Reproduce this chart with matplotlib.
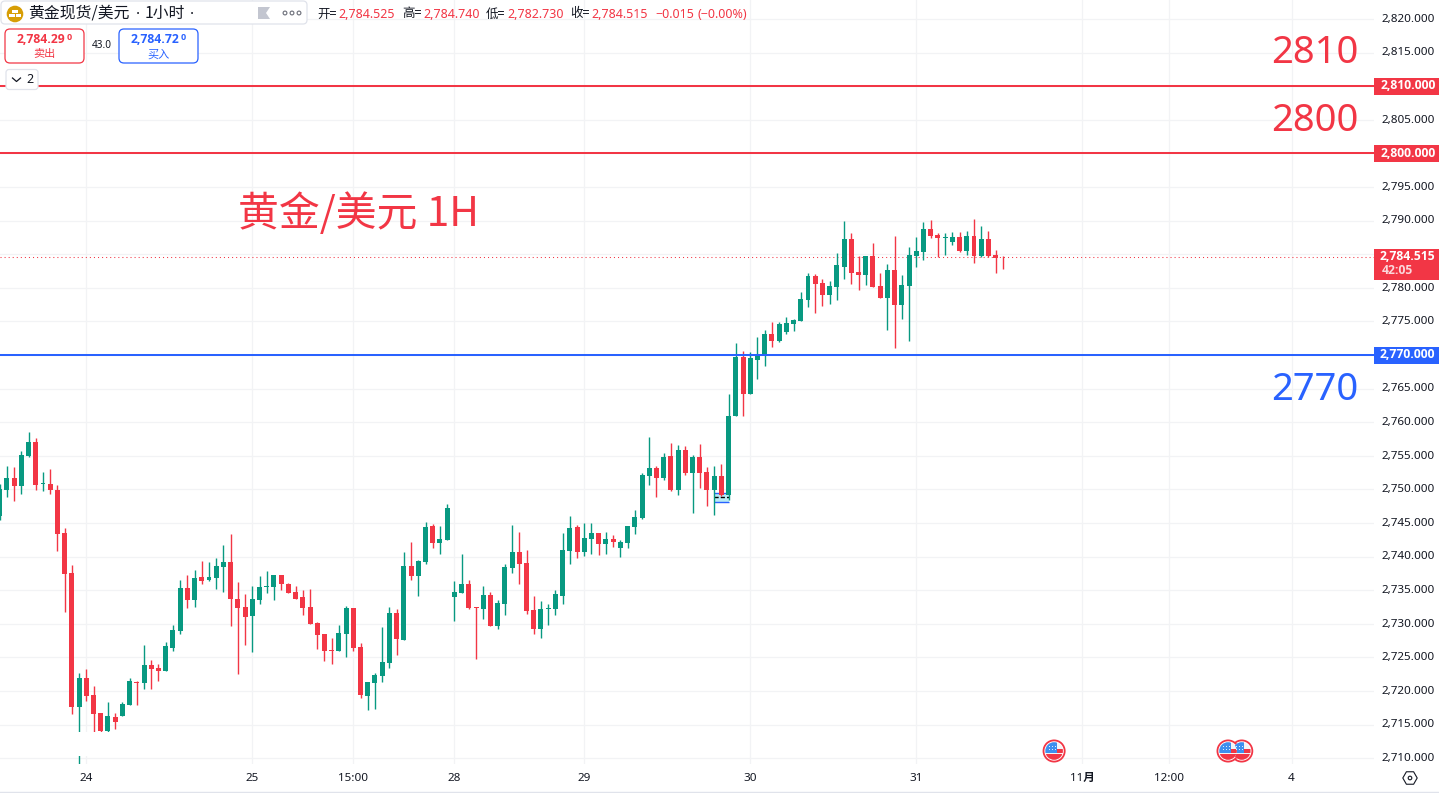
import matplotlib
matplotlib.use("Agg")
import math
import matplotlib.pyplot as plt
from matplotlib.patches import Circle, FancyBboxPatch, Polygon, Rectangle, RegularPolygon
from matplotlib.transforms import ScaledTranslation

# ---- data ----
opens = [2746.05,2749.91,2751.70,2750.51,2754.97,2757.06,2750.86,2750.81,2749.91,2743.52,
2737.56,2717.62,2721.94,2719.41,2716.73,2714.05,2716.14,2716.29,2717.92,2721.34,
2721.20,2723.87,2723.43,2722.98,2726.40,2728.93,2735.33,2733.55,2736.97,2736.52,
2736.82,2738.46,2739.20,2733.69,2732.50,2731.16,2733.54,2735.48,2735.48,2737.26,
2735.92,2734.73,2733.99,2732.50,2730.12,2728.48,2726.10,2725.95,2728.48,2732.35,
2726.55,2719.26,2721.19,2722.23,2724.17,2731.61,2727.59,2738.60,2737.11,2739.20,
2744.55,2742.02,2742.47,2733.99,2734.59,2735.93,2732.50,2732.21,2734.29,2729.68,
2732.95,2738.31,2740.69,2739.05,2732.06,2729.23,2732.21,2732.21,2734.14,2740.84,
2744.41,2740.69,2742.62,2743.52,2741.88,2742.62,2741.28,2742.03,2744.41,2745.75,
2752.00,2753.19,2751.70,2754.97,2749.91,2755.87,2752.44,2754.82,2752.59,2749.91,
2752.00,2749.17,2760.93,2769.71,2764.20,2769.26,2769.86,2773.13,2772.09,2773.43,
2774.62,2775.06,2778.19,2781.76,2780.72,2778.93,2780.12,2783.10,2787.26,2782.35,
2781.91,2784.74,2780.27,2778.49,2782.65,2777.44,2780.27,2784.74,2785.33,2788.75,
2787.86,2787.41,2786.82,2787.56,2785.48,2787.71,2784.74,2787.26,2784.88,2784.525]
highs = [2750.81,2753.49,2753.34,2755.72,2758.54,2757.65,2752.59,2753.04,2750.66,2744.26,
2738.75,2722.68,2723.28,2720.75,2716.73,2718.37,2716.73,2718.37,2721.94,2721.49,
2726.85,2724.62,2724.02,2727.30,2729.83,2736.52,2737.27,2738.01,2739.35,2739.20,
2739.80,2741.73,2743.37,2736.22,2734.43,2735.63,2737.11,2737.86,2737.26,2737.26,
2736.07,2735.63,2735.03,2735.18,2730.27,2728.48,2727.89,2729.82,2732.65,2732.35,
2727.14,2721.34,2722.68,2729.52,2732.50,2732.20,2740.68,2742.17,2739.49,2745.15,
2744.85,2744.55,2747.83,2736.37,2740.39,2736.52,2732.50,2735.63,2734.74,2733.55,
2738.90,2744.71,2743.66,2740.99,2734.14,2733.40,2732.95,2735.03,2743.52,2746.05,
2744.71,2745.00,2745.00,2743.52,2743.66,2743.22,2742.47,2744.56,2746.94,2752.44,
2757.80,2753.49,2755.42,2756.91,2756.61,2756.46,2755.12,2756.76,2753.34,2753.49,
2753.78,2764.20,2771.79,2770.60,2770.45,2772.68,2773.72,2774.91,2774.91,2775.66,
2775.36,2779.38,2782.21,2782.06,2781.31,2781.02,2785.18,2789.94,2788.16,2784.74,
2784.74,2786.67,2782.21,2783.54,2787.71,2781.91,2786.07,2787.56,2789.79,2790.09,
2788.16,2788.16,2788.31,2788.31,2788.46,2790.24,2789.20,2788.46,2785.63,2784.74]
lows = [2745.45,2748.87,2748.28,2749.32,2754.82,2749.91,2749.77,2749.32,2740.84,2731.76,
2716.58,2709.00,2718.52,2713.90,2713.90,2713.90,2714.35,2716.29,2717.92,2717.92,
2720.30,2720.30,2721.49,2722.98,2725.96,2728.49,2732.36,2732.50,2735.93,2736.37,
2735.18,2734.74,2729.68,2722.53,2726.85,2725.80,2732.95,2734.58,2733.54,2735.03,
2734.58,2733.69,2731.31,2729.97,2726.25,2724.47,2724.02,2725.95,2725.06,2725.95,
2718.96,2717.17,2717.32,2721.34,2723.42,2725.36,2727.59,2736.52,2734.14,2738.90,
2741.28,2740.39,2742.47,2730.42,2734.59,2732.21,2724.77,2730.72,2729.68,2729.23,
2731.31,2737.56,2735.93,2731.46,2728.49,2727.89,2729.83,2731.31,2732.95,2738.90,
2739.80,2740.09,2740.39,2740.24,2740.39,2741.43,2739.94,2741.28,2743.37,2745.60,
2750.66,2748.87,2751.40,2749.77,2749.17,2752.15,2746.49,2750.21,2747.53,2746.19,
2749.02,2748.43,2760.93,2760.93,2764.20,2766.43,2768.37,2771.19,2771.94,2773.13,
2773.58,2775.06,2777.15,2776.25,2777.30,2777.59,2778.19,2781.31,2780.57,2779.68,
2780.42,2780.12,2778.49,2773.72,2771.05,2775.36,2772.09,2783.10,2784.14,2787.41,
2784.59,2784.88,2786.37,2785.33,2784.88,2783.69,2784.59,2784.59,2782.21,2782.73]
closes = [2750.06,2751.70,2750.51,2755.12,2757.06,2750.66,2750.96,2749.91,2743.37,2737.41,
2717.62,2721.94,2719.26,2716.58,2714.05,2716.29,2715.39,2718.07,2721.49,2721.20,
2723.87,2723.28,2722.98,2726.70,2729.08,2735.33,2733.55,2736.82,2736.37,2736.97,
2738.61,2739.20,2733.69,2732.35,2731.01,2733.69,2735.48,2735.63,2737.26,2735.92,
2734.58,2733.69,2732.35,2729.97,2728.33,2725.95,2725.95,2728.63,2732.35,2726.40,
2719.41,2721.34,2722.38,2724.32,2731.61,2727.74,2738.60,2737.11,2739.35,2744.40,
2742.02,2742.62,2747.23,2734.74,2735.93,2732.36,2732.36,2734.29,2729.68,2733.10,
2738.46,2740.69,2738.90,2731.91,2729.23,2732.21,2732.36,2734.44,2740.99,2744.26,
2740.69,2742.77,2743.52,2741.88,2742.62,2742.18,2742.18,2744.56,2745.90,2752.15,
2753.19,2751.70,2754.82,2749.91,2755.87,2752.44,2754.82,2752.44,2749.91,2752.00,
2749.17,2760.93,2769.71,2764.20,2769.56,2770.00,2773.13,2772.09,2774.62,2774.77,
2775.21,2778.34,2781.76,2780.57,2778.93,2780.27,2783.40,2787.26,2782.21,2781.91,
2784.74,2780.12,2778.49,2782.65,2777.44,2780.42,2784.88,2785.48,2788.75,2787.71,
2787.41,2787.56,2787.56,2785.48,2787.71,2784.74,2787.26,2784.74,2784.44,2784.515]

price_ticks = [2710 + 5 * k for k in range(23)]
time_tick_idx = [12, 35, 49, 63, 81, 104, 127, 150, 162, 179]
time_tick_lab = ['24', '25', '15:00', '28', '29', '30', '31', '11月', '12:00', '4']
red_levels = [2810, 2800]
blue_levels = [2770]
last_price = 2784.515
event_idx = [146.1, 170.2, 172.1]

# ---- styles ----
UP, DOWN, BLUE, INK = '#089981', '#F23645', '#2962FF', '#131722'
GRID = '#F2F3F5'
LAT = ['Noto Sans', 'Noto Sans CJK SC']
BOLD = ['Open Sans']
CJK = ['Noto Sans CJK SC', 'Noto Sans']
W, H = 1439, 793
fig = plt.figure(figsize=(W / 100, H / 100), dpi=100, facecolor='white')
PLOT_R, PLOT_B = 1374, 763.5
ax = fig.add_axes([0, (H - PLOT_B) / H, PLOT_R / W, PLOT_B / H], facecolor='white')

PXU = 6.72
ax.set_ylim(2770 - (PLOT_B - 355) / PXU, 2770 + 355 / PXU)
ax.set_xlim((0 + 0.3) / 7.217, (PLOT_R + 0.3) / 7.217)

for s in ax.spines.values():
    s.set_visible(False)
ax.grid(True, color=GRID, lw=0.9, zorder=0)
ax.set_axisbelow(True)
ax.yaxis.tick_right()
ax.set_yticks(price_ticks)
ax.set_yticklabels([f'{v:,.3f}' for v in price_ticks], family=LAT, fontsize=8.4, color=INK, ha='right')
ax.tick_params(axis='y', length=0, pad=44)
up_shift = ScaledTranslation(0, 1.2 / 100, fig.dpi_scale_trans)
for tick in ax.yaxis.get_major_ticks():
    tick.label2.set_transform(tick.label2.get_transform() + up_shift)
ax.set_xticks(time_tick_idx)
ax.set_xticklabels(time_tick_lab, family=LAT, fontsize=8.4, color=INK)
for lab in ax.get_xticklabels():
    if lab.get_text() == '11月':
        lab.set_fontweight('bold')
ax.tick_params(axis='x', length=0, pad=7)

# candles
for i, (o, h, l, c) in enumerate(zip(opens, highs, lows, closes)):
    col = UP if c >= o else DOWN
    ax.vlines(i, l, h, color=col, lw=1.0, zorder=3, capstyle='butt')
    ax.bar(i, max(abs(c - o), 0.14), bottom=min(o, c), width=0.69, color=col, lw=0, zorder=4)

for v in red_levels:
    ax.axhline(v, color=DOWN, lw=1.45, zorder=5)
for v in blue_levels:
    ax.axhline(v, color=BLUE, lw=1.45, zorder=5)
ax.axhline(last_price, color=DOWN, lw=0.75, ls=(0, (1, 2.9)), zorder=2)

# ---- overlay in pixel coordinates ----
ui = fig.add_axes([0, 0, 1, 1], facecolor='none', zorder=10)
ui.set_xlim(0, W)
ui.set_ylim(H, 0)
ui.axis('off')

# mask strip on the candles
ui.add_patch(Rectangle((72, 732), 42, 23.7, fc='white', ec='none', zorder=1))

# position marker behind the candles near 29/30
ax.add_patch(Rectangle((99.0, 2748.1), 2.08, 1.35, fc='#B7EAF5', ec='none', zorder=2))
ax.hlines([2749.5, 2748.1], 99.0, 101.08, color=BLUE, lw=1.0, zorder=2.5)
ax.hlines([2748.85], 99.0, 101.08, color='black', lw=1.0, ls=(0, (3, 1.5)), zorder=2.5)

def rbox(x0, y0, x1, y1, ec, fc='white', r=4, lw=0.8, z=5):
    ui.add_patch(FancyBboxPatch((x0, y0), x1 - x0, y1 - y0, boxstyle=f'round,pad=0,rounding_size={r}',
                                fc=fc, ec=ec, lw=lw, zorder=z))

def tx(x, y, s, size, color=INK, fam=LAT, ha='left', va='center', weight='normal', z=8):
    return ui.text(x, y, s, fontsize=size, color=color, family=fam, ha=ha, va=va, weight=weight, zorder=z)

# price tags
for v, col in [(2810, DOWN), (2800, DOWN), (2770, BLUE)]:
    yy = 355 - (v - 2770) * PXU
    ui.add_patch(Rectangle((PLOT_R, yy - 8), W - PLOT_R, 16.5, fc=col, ec='none', zorder=5))
    tx(1435.5, yy - 0.3, f'{v:,.3f}', 8.7, 'white', fam=BOLD, ha='right', weight='bold')
ui.add_patch(Rectangle((PLOT_R, 249), W - PLOT_R, 31, fc=DOWN, ec='none', zorder=5))
tx(1435.5, 256.5, f'{last_price:,.3f}', 8.7, 'white', fam=BOLD, ha='right', weight='bold')
tx(1382, 270, '42:05', 8.7, '#FBD9DC', fam=BOLD, weight='bold')

# big annotations
for y, s, col in [(53, '2810', DOWN), (121, '2800', DOWN), (390, '2770', BLUE)]:
    tx(1315, y, s, 27.5, col, ha='center', fam=['Noto Sans'])
tx(238, 214, '黄金/美元 1H', 29.4, DOWN, fam=CJK)

# header
rbox(1, 1, 307, 24, '#E0E3EB', r=4, lw=0.9)
ui.add_patch(Circle((15, 14), 8.3, fc='#D79E06', ec='none', zorder=6))
ui.add_patch(Rectangle((12.3, 9.5), 5.4, 3, fc='white', ec='none', zorder=7))
ui.add_patch(Rectangle((9.3, 14), 5.2, 3, fc='white', ec='none', zorder=7))
ui.add_patch(Rectangle((15.5, 14), 5.2, 3, fc='white', ec='none', zorder=7))
tx(28, 13.5, '黄金现货/美元', 11.4, fam=CJK)
tx(136, 14, '·', 11, fam=LAT)
tx(145, 13.5, '1小时', 11.4, fam=CJK)
tx(189.5, 14, '·', 11, fam=LAT)
ui.add_patch(Polygon([(258, 7), (270, 7), (266, 13), (270, 19), (258, 19)], fc='#C3C6D0', ec='none', zorder=6))
for x in (285, 292, 299):
    ui.add_patch(Circle((x, 13), 1.9, fc='white', ec='#6A6D78', lw=0.8, zorder=6))

for x, s in [(317, '开='), (402, '高='), (486, '低='), (570, '收=')]:
    tx(x, 14, s, 9, fam=CJK)
for x, s in [(338, '2,784.525'), (423, '2,784.740'), (507, '2,782.730'), (591, '2,784.515'),
             (655, '−0.015'), (698, '(−0.00%)')]:
    tx(x, 14, s, 9, DOWN)

# bid / ask boxes
rbox(5, 29, 84, 63, DOWN, r=5, lw=0.9)
rbox(119, 29, 198, 63, BLUE, r=5, lw=0.9)
tx(16.5, 39.5, '2,784.29', 8.7, DOWN, fam=BOLD, weight='bold')
tx(66.5, 38, '0', 6.4, DOWN, fam=BOLD, weight='bold')
tx(44.5, 54.5, '卖出', 8, DOWN, ha='center', fam=CJK)
tx(131, 39.5, '2,784.72', 8.7, BLUE, fam=BOLD, weight='bold')
tx(181, 38, '0', 6.4, BLUE, fam=BOLD, weight='bold')
tx(158.5, 54.5, '买入', 8, BLUE, ha='center', fam=CJK)
tx(101.5, 46, '43.0', 7.2, ha='center')

# collapse button
rbox(6, 69.5, 38, 89.5, '#E0E3EB', r=3, lw=0.9)
ui.plot([12.5, 16.5, 20.5], [78, 81.5, 78], color=INK, lw=0.9, zorder=7)
tx(26, 79.5, '2', 9)

# event flags on the time scale
for i in reversed(event_idx):
    cx, cy = -0.3 + 7.217 * i, 751
    ui.add_patch(Circle((cx, cy), 10.6, fc='white', ec=DOWN, lw=1.3, zorder=6))
    disc = Circle((cx, cy), 8.8, transform=ui.transData)
    for (x0, y0, w, h, col) in [(-9, -9, 18, 18, '#F4F4F6'), (2.7, -2, 6.3, 3.7, DOWN), (-9, 3.3, 18, 6, DOWN),
                                (-9, -9, 11.7, 10.7, '#3D8FEF')]:
        r = Rectangle((cx + x0, cy + y0), w, h, fc=col, ec='none', zorder=7)
        ui.add_patch(r)
        r.set_clip_path(disc)
    for dx in (-5.5, -2.5, 0.5):
        for dy in (-5.5, -2.5):
            ui.add_patch(Rectangle((cx + dx, cy + dy), 1, 1, fc='#DCEBFB', ec='none', zorder=8))

# hexagon settings icon and bottom border
ui.add_patch(RegularPolygon((1410, 778), 6, radius=7.2, orientation=math.pi / 6, fc='white', ec=INK, lw=0.8, zorder=6))
ui.add_patch(Circle((1410, 778), 1.8, fc='white', ec=INK, lw=0.8, zorder=7))
ui.plot([0, W], [792.2, 792.2], color='#E0E3EB', lw=1.0, zorder=6)

fig.savefig('out.png', dpi=100)
